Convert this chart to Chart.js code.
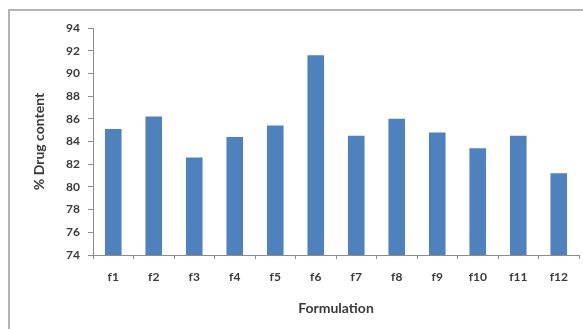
<!DOCTYPE html>
<html>
<head>
<meta charset="utf-8">
<script src="https://cdn.jsdelivr.net/npm/chart.js@4.4.1/dist/chart.umd.min.js"></script>
<style>
  html, body { margin: 0; padding: 0; background: #fff; }
  #wrap { position: relative; width: 583px; height: 329px; overflow: hidden; }
  #frame { position: absolute; left: 8px; top: 9px; width: 600px; height: 400px;
           border-left: 2px solid #b4b4b4; border-top: 2px solid #b4b4b4; pointer-events: none; }
  canvas { position: absolute; left: 0; top: 0; }
</style>
</head>
<body>
<div id="wrap">
  <canvas id="c" width="583" height="329"></canvas>
  <div id="frame"></div>
</div>
<script>
// Drug content (%) for each formulation
const categories = ['f1', 'f2', 'f3', 'f4', 'f5', 'f6', 'f7', 'f8', 'f9', 'f10', 'f11', 'f12'];
const drugContent = [85.1, 86.2, 82.6, 84.4, 85.4, 91.6, 84.5, 86.0, 84.8, 83.4, 84.5, 81.2];
const yTicks = [74, 76, 78, 80, 82, 84, 86, 88, 90, 92, 94];

const axisColor = '#8c8c8c';
const textColor = '#3a3a3a';
const fontFamily = 'Lato, "Open Sans", sans-serif';

new Chart(document.getElementById('c'), {
  type: 'bar',
  data: {
    labels: categories,
    datasets: [{
      data: drugContent,
      backgroundColor: '#4f81bd',
      borderWidth: 0,
      categoryPercentage: 1,
      barPercentage: 0.41
    }]
  },
  options: {
    responsive: false,
    animation: false,
    devicePixelRatio: 1,
    layout: { padding: { left: 0, right: 4, top: 28, bottom: 0 } },
    plugins: { legend: { display: false }, tooltip: { enabled: false } },
    scales: {
      x: {
        afterFit: s => { s.height = 74; },
        grid: { display: true, drawOnChartArea: false, offset: true, tickLength: 4, color: axisColor },
        border: { display: true, color: axisColor, width: 1 },
        ticks: { color: textColor, font: { family: fontFamily, size: 12, weight: 'bold' }, padding: 11 },
        title: { display: true, text: 'Formulation', color: textColor,
                 font: { family: fontFamily, size: 14, weight: 'bold' }, padding: { top: 0, bottom: 12 } }
      },
      y: {
        min: 74, max: 94,
        afterFit: s => { s.width = 93; },
        afterBuildTicks: s => { s.ticks = yTicks.map(v => ({ value: v })); },
        grid: { display: true, drawOnChartArea: false, tickLength: 5, color: axisColor },
        border: { display: true, color: axisColor, width: 1 },
        ticks: { color: textColor, font: { family: fontFamily, size: 12, weight: 'bold' }, padding: 8 },
        title: { display: true, text: '% Drug content', color: textColor,
                 font: { family: fontFamily, size: 14, weight: 'bold' }, padding: { top: 31, bottom: 0 } }
      }
    }
  }
});
</script>
</body>
</html>
